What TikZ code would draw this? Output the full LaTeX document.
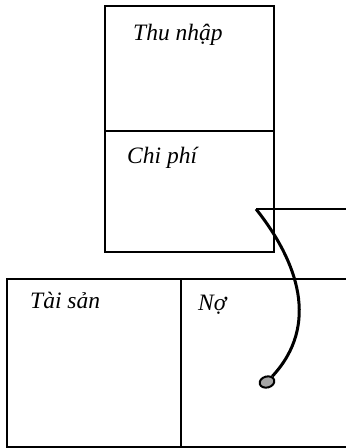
\documentclass[tikz,border=0pt]{standalone}
\usepackage{fontspec}
\setmainfont{Liberation Serif}
\usetikzlibrary{positioning, shapes.geometric}

\begin{document}
\begin{tikzpicture}[x=1pt, y=-1pt, font=\itshape\fontsize{23.5}{26}\selectfont,
      frame/.style={draw, line width=2.6pt, inner sep=0pt, outer sep=0pt},
      rule/.style={line width=2.6pt},
      lbl/.style={anchor=base west, inner sep=0pt},
      link/.style={line width=3pt}]
    \useasboundingbox (0,0) rectangle (346,448);
    % upper account: income over expense
    \node[frame, minimum width=169pt, minimum height=125pt, anchor=north west] (income) at (105,6) {};
    \node[frame, minimum width=169pt, minimum height=121pt, anchor=north] (expense) at (income.south) {};
    % lower account: assets | liabilities (open to the right)
    \node[frame, minimum width=174pt, minimum height=168pt, anchor=north west] (assets) at (7,279) {};
    \coordinate (debttop) at (352,279);
    \coordinate (debtbot) at (352,447);
    \draw[rule] (assets.north east) -- (debttop);
    \draw[rule] (assets.south east) -- (debtbot);
    % labels
    \node[lbl] (incometxt)  at ([xshift=28pt, yshift=-34pt]income.north west)  {Thu nhập};
    \node[lbl] (expensetxt) at ([xshift=22pt, yshift=-32pt]expense.north west) {Chi phí};
    \node[lbl] (assettxt)   at ([xshift=23pt, yshift=-29pt]assets.north west)  {Tài sản};
    \node[lbl] (debttxt)    at ([xshift=17pt, yshift=-31pt]assets.north east)  {Nợ};
    % hook from the expense side down into the liabilities
    \coordinate (hook) at (256,209);
    \coordinate (hookend) at (352,209);
    \node[ellipse, draw, line width=2pt, fill=gray!70, minimum width=15pt,
          minimum height=11pt, inner sep=0pt, rotate=15] (blob) at (267,382) {};
    \draw[rule] (hook) -- (hookend);
    \draw[link] (hook) .. controls (298,262) and (320,325) .. (blob);
  \end{tikzpicture}
\end{document}
